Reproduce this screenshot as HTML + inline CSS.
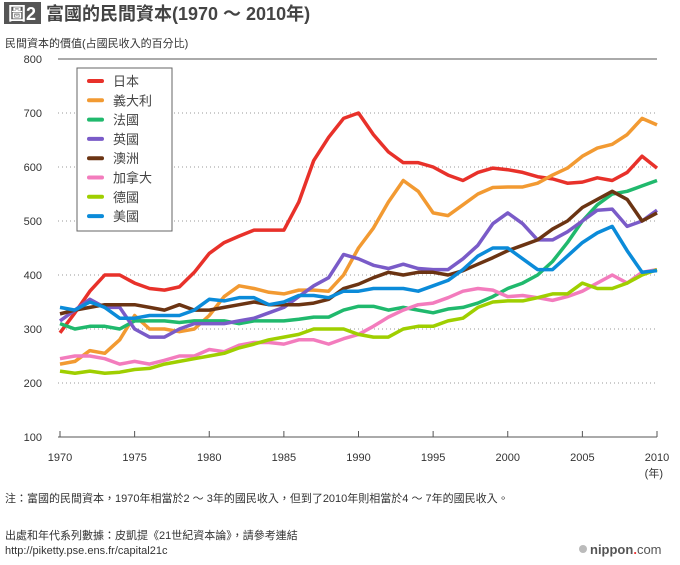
<!DOCTYPE html>
<html><head><meta charset="utf-8"><style>
body{margin:0;background:#fff;width:680px;height:560px;overflow:hidden;font-family:"Liberation Sans","Noto Sans CJK TC",sans-serif;color:#333}
svg text{font-family:"Liberation Sans","Noto Sans CJK TC",sans-serif}
</style></head><body>
<svg width="680" height="560">
<rect x="4" y="2" width="37" height="22" fill="#555"/>
<text x="8" y="20" font-size="18" fill="#fff" font-weight="bold">圖2</text>
<text x="46" y="20" font-size="18" fill="#444" font-weight="bold">富國的民間資本(1970 ～ 2010年)</text>
<text x="5" y="47" font-size="11" fill="#333">民間資本的價值(占國民收入的百分比)</text>
<g id="grid"></g>
<g id="series"></g>
<g>
<rect x="77" y="68" width="95" height="163" fill="#fff" stroke="#666" stroke-width="1"/>
<g id="legend"></g>
</g>
<text x="5" y="502" font-size="11" fill="#333">注：富國的民間資本，1970年相當於2 ～ 3年的國民收入，但到了2010年則相當於4 ～ 7年的國民收入。</text>
<text x="5" y="539" font-size="11" fill="#333">出處和年代系列數據：皮凱提《21世紀資本論》，請參考連結</text>
<text x="5" y="554" font-size="11" fill="#333">http://piketty.pse.ens.fr/capital21c</text>
<circle cx="583" cy="549" r="4" fill="#bbb"/>
<text x="590" y="554" font-size="13" font-weight="bold" fill="#555">nippon<tspan fill="#e33">.</tspan><tspan font-weight="normal">com</tspan></text>
</svg>
<script>
const years=[];for(let y=1970;y<=2010;y++)years.push(y);
const yTicks=[800,700,600,500,400,300,200,100];
const xTicks=[1970,1975,1980,1985,1990,1995,2000,2005,2010];
const names=["日本","義大利","法國","英國","澳洲","加拿大","德國","美國"];
const keys=["japan","italy","france","uk","australia","canada","germany","usa"];
const colors=["#e8312a","#f29a32","#20b96d","#7a5bc8","#6b3413","#f37cbd","#9fcf00","#0b8bd9"];
const japan=[293,330,370,400,400,385,375,372,378,405,440,460,472,483,483,483,535,612,655,690,700,660,628,608,608,600,585,575,590,598,595,590,582,578,570,572,580,575,590,620,598];
const italy=[235,240,260,255,280,325,300,300,295,300,325,360,380,375,368,365,372,372,370,400,450,487,535,575,555,515,510,530,550,562,563,563,570,585,598,620,635,642,660,690,678];
const france=[310,300,305,305,300,315,315,315,312,315,315,315,310,315,315,315,318,322,322,335,342,342,335,340,335,330,337,340,348,360,375,385,400,425,460,500,530,550,555,565,575];
const uk=[315,335,355,340,340,300,285,285,300,310,310,310,315,320,330,340,360,380,395,438,430,418,412,420,412,410,410,430,455,495,515,495,465,465,480,500,520,522,490,500,520];
const australia=[328,335,340,345,345,345,340,335,345,335,335,340,345,350,345,345,345,348,355,375,383,395,405,400,405,405,400,408,420,432,445,455,465,485,500,525,540,555,540,500,515];
const canada=[245,250,250,245,235,240,235,242,250,250,262,258,270,275,275,272,280,280,272,282,290,305,322,335,345,348,358,370,375,372,360,362,358,353,360,370,385,400,385,405,410];
const germany=[222,218,222,218,220,225,227,235,240,245,250,255,265,272,280,285,290,300,300,300,290,285,285,300,305,305,315,320,340,350,352,352,358,365,365,385,375,375,385,400,410];
const usa=[340,335,350,340,320,320,325,325,325,335,355,352,358,358,345,350,362,362,358,370,370,375,375,375,370,380,390,410,435,450,450,430,410,410,435,460,478,490,445,405,408];
const seriesList=[japan,italy,france,uk,australia,canada,germany,usa];
const NS="http://www.w3.org/2000/svg";
const X=y=>60+(y-1970)*(597/40);
const Y=v=>437-(v-100)*0.54;
function mk(t,a,p){const e=document.createElementNS(NS,t);for(const k in a)e.setAttribute(k,a[k]);p.appendChild(e);return e;}
const grid=document.getElementById('grid');
yTicks.forEach(v=>{
 const solid=(v===800||v===100);
 const l=mk('line',{x1:58,x2:657,y1:Y(v),y2:Y(v),stroke:solid?'#555':'#999','stroke-width':1,'stroke-dasharray':solid?'':'1,3'},grid);
 
 
 const t=mk('text',{x:42,y:Y(v)+4,'font-size':11,'text-anchor':'end',fill:'#333'},grid);t.textContent=v;
 
 
});
xTicks.forEach(v=>{
 const l=mk('line',{x1:X(v),x2:X(v),y1:431,y2:437,stroke:'#555','stroke-width':1},grid);
 
 
 const t=mk('text',{x:X(v),y:461,'font-size':11,'text-anchor':'middle',fill:'#333'},grid);t.textContent=v;
 
 
});
const yl=mk('text',{x:663,y:477,'font-size':11,'text-anchor':'end',fill:'#333'},grid);yl.textContent='(年)';


const sg=document.getElementById('series');
seriesList.forEach((s,i)=>{
 const p=mk('polyline',{points:s.map((v,j)=>X(years[j])+','+Y(v)).join(' '),fill:'none',stroke:colors[i],'stroke-width':3.5,'stroke-linejoin':'round'},sg);
 
 
});
const lg=document.getElementById('legend');
names.forEach((n,i)=>{
 const y=81+i*19.3;
 const l=mk('line',{x1:89,x2:102,y1:y,y2:y,stroke:colors[i],'stroke-width':4,'stroke-linecap':'round'},lg);
 
 
 const t=mk('text',{x:113,y:y+5,'font-size':13,fill:'#444'},lg);t.textContent=n;
 
 
});
</script>
</body></html>
